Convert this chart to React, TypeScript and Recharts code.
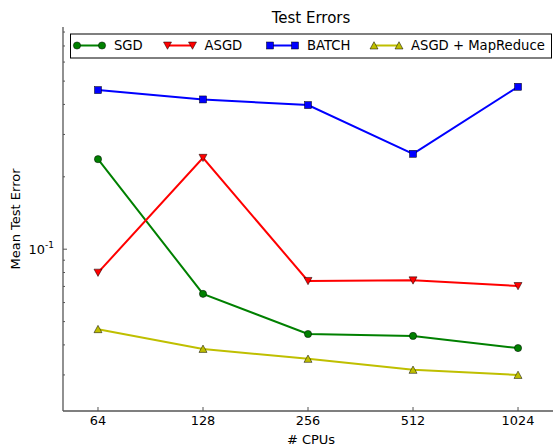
import React from 'react';
import { LineChart, Line, XAxis, YAxis } from 'recharts';

// mean test error per number of CPUs (log-log plot)
const cpus = [64, 128, 256, 512, 1024];
const sgd = [0.2368, 0.0652, 0.0444, 0.0436, 0.0388];
const asgd = [0.0799, 0.2399, 0.0738, 0.0742, 0.0703];
const batch = [0.4589, 0.4195, 0.3975, 0.2493, 0.4736];
const asgdMapReduce = [0.0465, 0.0385, 0.035, 0.0315, 0.03];

const yTicks = [0.03, 0.04, 0.05, 0.06, 0.07, 0.08, 0.09, 0.1, 0.2, 0.3, 0.4, 0.5, 0.6, 0.7, 0.8];
const yDomain = [0.02124, 0.8395];
const xDomain = [50.8, 1342];

const series = [
  { key: 'sgd', name: 'SGD', color: '#008000', shape: 'circle' },
  { key: 'asgd', name: 'ASGD', color: '#ff0000', shape: 'triDown' },
  { key: 'batch', name: 'BATCH', color: '#0000ff', shape: 'square' },
  { key: 'asgdMapReduce', name: 'ASGD + MapReduce', color: '#bfbf00', shape: 'triUp' },
];

const data = cpus.map((c, i) => ({
  cpus: c,
  sgd: sgd[i],
  asgd: asgd[i],
  batch: batch[i],
  asgdMapReduce: asgdMapReduce[i],
}));

const FONT = '"DejaVu Sans", sans-serif';
const SPINE = '#555';

const W = 600;
const H = 447;
const M = { top: 27, right: 41, left: 0, bottom: 0 };

function Marker({ shape, cx, cy, fill }: { shape: string; cx: number; cy: number; fill: string }) {
  const common = { fill, stroke: '#000', strokeWidth: 0.5 };
  if (shape === 'circle') return <circle cx={cx} cy={cy} r={3.6} {...common} />;
  if (shape === 'square') return <rect x={cx - 3.5} y={cy - 3.5} width={7} height={7} {...common} />;
  if (shape === 'triDown')
    return <polygon points={`${cx - 4},${cy - 3.5} ${cx + 4},${cy - 3.5} ${cx},${cy + 3.8}`} {...common} />;
  return <polygon points={`${cx - 4},${cy + 3.5} ${cx + 4},${cy + 3.5} ${cx},${cy - 3.8}`} {...common} />;
}

function BottomTick(props: any) {
  const { x, y, payload } = props;
  return (
    <g>
      <line x1={x} y1={y} x2={x} y2={y - 4} stroke={SPINE} />
      <text x={x} y={y + 14} textAnchor="middle" fontSize={12.9} fontFamily={FONT} fill="#000">
        {payload.value}
      </text>
    </g>
  );
}

function TopTick(props: any) {
  const { x, y } = props;
  return <line x1={x} y1={y} x2={x} y2={y + 4} stroke={SPINE} />;
}

function LeftTick(props: any) {
  const { x, y, payload } = props;
  const major = payload.value === 0.1;
  return (
    <g>
      <line x1={x} y1={y} x2={x + (major ? 4 : 2)} y2={y} stroke={SPINE} />
      {major && (
        <text x={x - 9} y={y + 5} textAnchor="end" fontSize={12.9} fontFamily={FONT} fill="#000">
          <tspan>10</tspan>
          <tspan dy={-6} fontSize={9}>-1</tspan>
        </text>
      )}
    </g>
  );
}

// legend row, one slot per series
const legendSlots = [77, 167.5, 270, 374];

function LegendBox() {
  return (
    <g>
      <rect x={70.5} y={34} width={481} height={24} fill="#fff" stroke="#000" strokeWidth={1} />
      {series.map((s, i) => {
        const x0 = legendSlots[i];
        const y = 45.5;
        return (
          <g key={s.key}>
            <line x1={x0} y1={y} x2={x0 + 25} y2={y} stroke={s.color} strokeWidth={2} />
            <Marker shape={s.shape} cx={x0} cy={y} fill={s.color} />
            <Marker shape={s.shape} cx={x0 + 25} cy={y} fill={s.color} />
            <text x={x0 + 37} y={y + 4.8} fontSize={13.2} fontFamily={FONT} fill="#000">
              {s.name}
            </text>
          </g>
        );
      })}
    </g>
  );
}

export default function App() {
  return (
    <div style={{ position: 'absolute', left: 0, top: 0, width: 553, height: 447, overflow: 'hidden', background: '#fff' }}>
      <LineChart width={W} height={H} data={data} margin={M}>
        <XAxis
          dataKey="cpus"
          type="number"
          scale="log"
          domain={xDomain}
          allowDataOverflow
          ticks={cpus}
          interval={0}
          tickSize={0}
          tickMargin={0}
          tick={<BottomTick />}
          axisLine={{ stroke: SPINE, strokeWidth: 1.3 }}
          tickLine={false}
          height={36}
        />
        <XAxis
          xAxisId="top"
          orientation="top"
          dataKey="cpus"
          type="number"
          scale="log"
          domain={xDomain}
          allowDataOverflow
          ticks={cpus}
          interval={0}
          tickSize={0}
          tickMargin={0}
          tick={<TopTick />}
          axisLine={{ stroke: SPINE, strokeWidth: 1.3 }}
          tickLine={false}
          height={0}
        />
        <YAxis
          type="number"
          scale="log"
          domain={yDomain}
          allowDataOverflow
          ticks={yTicks}
          interval={0}
          tickSize={0}
          tickMargin={0}
          tick={<LeftTick />}
          axisLine={{ stroke: SPINE, strokeWidth: 1.3 }}
          tickLine={false}
          width={63}
        />
        {series.map((s) => (
          <Line
            key={s.key}
            dataKey={s.key}
            name={s.name}
            stroke={s.color}
            strokeWidth={2}
            isAnimationActive={false}
            dot={(p: any) => <Marker key={`${s.key}-${p.index}`} shape={s.shape} cx={p.cx} cy={p.cy} fill={s.color} />}
            activeDot={false}
          />
        ))}
      </LineChart>
      <svg width={553} height={447} style={{ position: 'absolute', left: 0, top: 0, pointerEvents: 'none' }}>
        <text x={311} y={22.5} textAnchor="middle" fontSize={15} fontFamily={FONT} fill="#000">
          Test Errors
        </text>
        <text x={311} y={444} textAnchor="middle" fontSize={13} fontFamily={FONT} fill="#000">
          # CPUs
        </text>
        <text
          x={20}
          y={219}
          textAnchor="middle"
          fontSize={13}
          fontFamily={FONT}
          fill="#000"
          transform="rotate(-90 20 219)"
        >
          Mean Test Error
        </text>
        <LegendBox />
      </svg>
    </div>
  );
}
